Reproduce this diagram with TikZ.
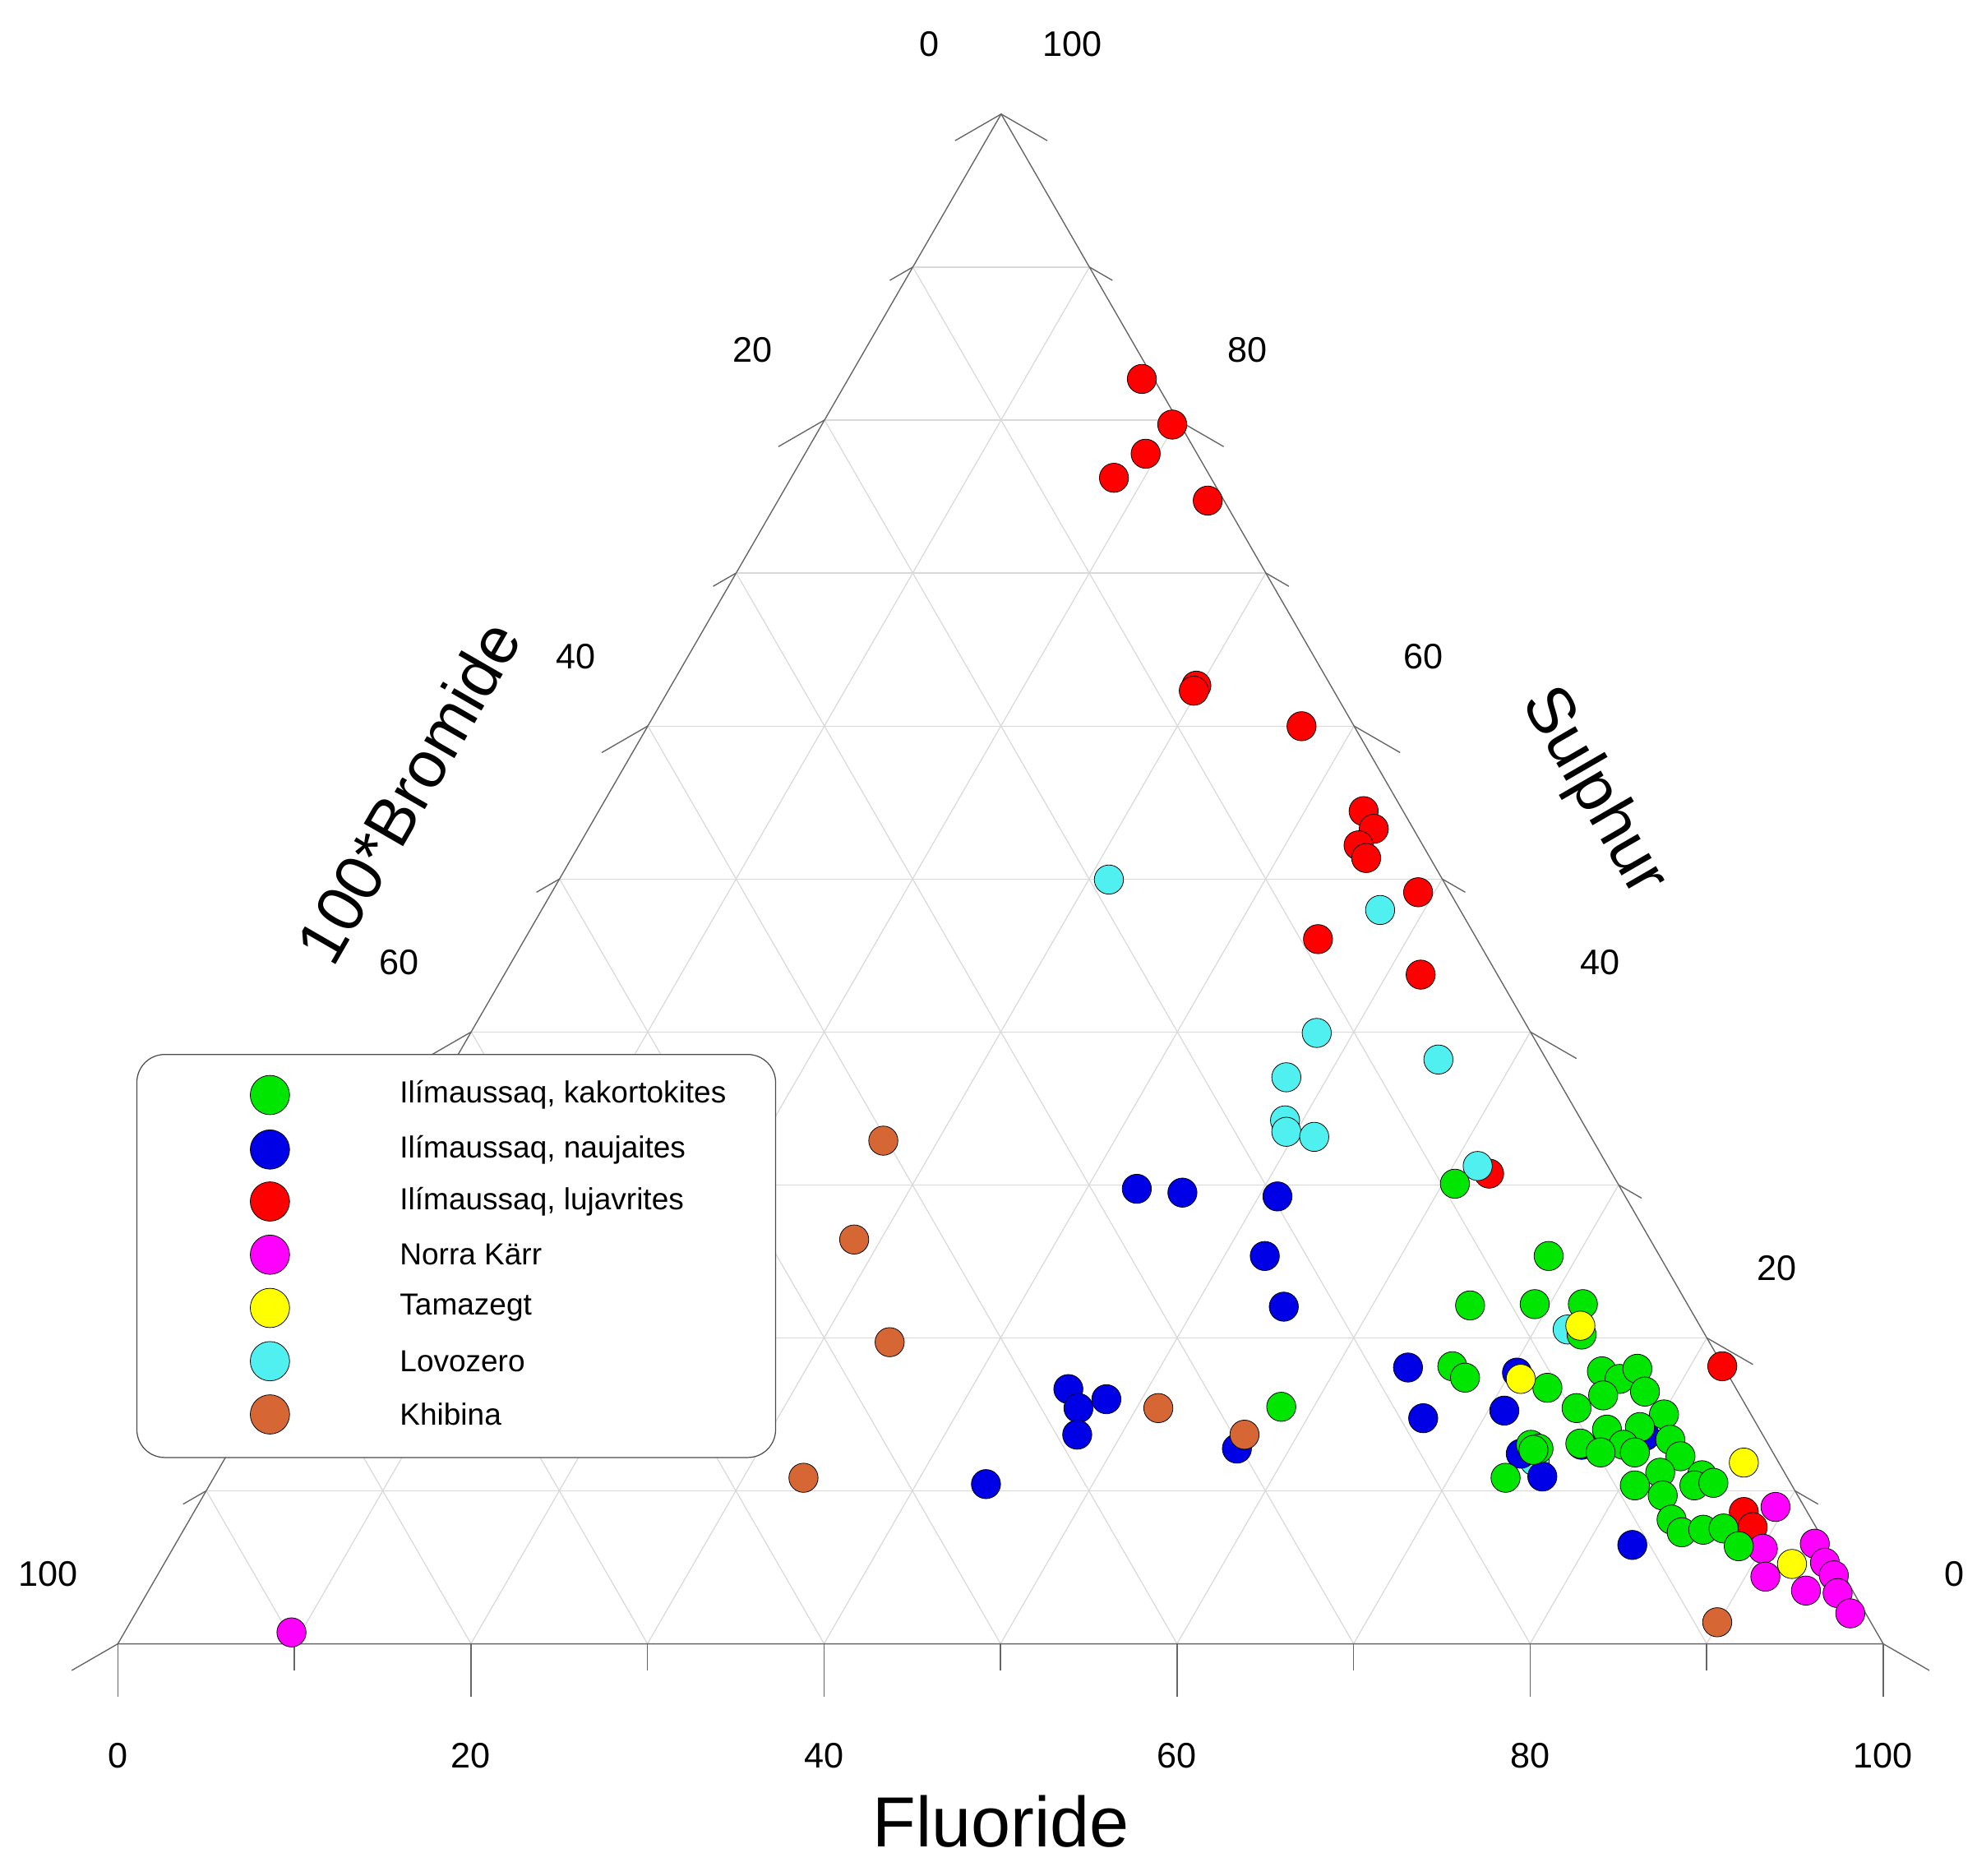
\documentclass[tikz,border=0pt]{standalone}
\usepackage{fontspec}
\setmainfont{Liberation Sans}
\usetikzlibrary{calc}
\definecolor{cG}{RGB}{0,230,0}
\definecolor{cB}{RGB}{0,0,230}
\definecolor{cR}{RGB}{255,0,0}
\definecolor{cM}{RGB}{255,0,255}
\definecolor{cY}{RGB}{255,255,0}
\definecolor{cC}{RGB}{80,240,240}
\definecolor{cK}{RGB}{214,102,52}
\begin{document}
\begin{tikzpicture}[x=1pt,y=-1pt,
 grid/.style={draw=black!15,line width=0.8pt},
 ax/.style={draw=black!60,line width=0.9pt},
 num/.style={font=\fontsize{28}{30}\selectfont},
 pt/.style={circle,draw=black,line width=0.5pt,minimum size=23pt,inner sep=0pt},
 lg/.style={circle,draw=black,line width=0.5pt,minimum size=31pt,inner sep=0pt},
 lt/.style={anchor=west,font=\fontsize{24}{26}\selectfont}]
\useasboundingbox (0,0) rectangle (1560,1480);
\coordinate (L) at (93,1297); \coordinate (R) at (1486,1297); \coordinate (T) at (790,90);
\foreach \k in {0.1,0.2,...,0.95}{
 \draw[grid] ($(L)!\k!(R)$) -- ($(T)!\k!(R)$);
 \draw[grid] ($(R)!\k!(L)$) -- ($(T)!\k!(L)$);
 \draw[grid] ($(L)!\k!(T)$) -- ($(R)!\k!(T)$);
}
\draw[ax] (L) -- (R) -- (T) -- cycle;
\foreach \k/\len in {0/42,0.1/21,0.2/42,0.3/21,0.4/42,0.5/21,0.6/42,0.7/21,0.8/42,0.9/21,1/42}{
 \draw[ax] ($(L)!\k!(R)$) -- ++(0,\len);
 \draw[ax] ($(T)!\k!(L)$) -- ++(150:\len);
 \draw[ax] ($(R)!\k!(T)$) -- ++(30:\len);
}
\foreach \v/\k in {0/0,20/0.2,40/0.4,60/0.6,80/0.8,100/1}
 \node[num] (f\v) at ($(L)!\k!(R)+(0,88)$) {\v};
\foreach \v/\k in {20/0.2,40/0.4,60/0.6}
 \node[num] (b\v) at ($(T)!\k!(L)+(-57,-55)$) {\v};
\node[num] (b0) at (733,35) {0};
\node[num] (b100) at (38,1242) {100};
\foreach \v/\k in {20/0.2,40/0.4,60/0.6,80/0.8}
 \node[num] (s\v) at ($(R)!\k!(T)+(55,-55)$) {\v};
\node[num] (s0) at (1542,1242) {0};
\node[num] (s100) at (846,35) {100};
\node[font=\fontsize{56}{60}\selectfont] (tf) at (790,1437) {Fluoride};
\node[font=\fontsize{52}{56}\selectfont,rotate=60] (tb) at (322,625) {100*Bromide};
\node[font=\fontsize{52}{56}\selectfont,rotate=-60] (ts) at (1257,625) {Sulphur};
\draw[fill=white,draw=black!70,line width=0.8pt,rounded corners=22pt] (108,832) rectangle (612,1150);
\foreach \c/\y/\t [count=\i] in {cG/864/{Ilímaussaq, kakortokites},cB/907/{Ilímaussaq, naujaites},cR/948/{Ilímaussaq, lujavrites},cM/990/{Norra Kärr},cY/1032/Tamazegt,cC/1074/Lovozero,cK/1116/Khibina}{
 \node[lg,fill=\c] (lm\i) at (213,\y) {};
 \node[lt] (lt\i) at (312,\y) {\t};
}
\foreach \p [count=\i] in {(901,299),(925,335),(904,358),(879,377),(953,395),(944,541),(942,545),(1027,573),(1076,640),(1084,654),(1072,667),(1078,677),(1119,704),(1040,741),(1121,769),(1175,926),(1359,1078),(1376,1193),(1383,1205)}
 \node[pt,fill=cR] (r\i) at \p {};
\foreach \p [count=\i] in {(875,694),(1089,718),(1039,815),(1135,836),(1015,850),(1014,884),(1015,893),(1037,897),(1166,920),(1237,1049),(1211,1153)}
 \node[pt,fill=cC] (c\i) at \p {};
\foreach \p [count=\i] in {(897,938),(933,941),(1008,944),(998,991),(1013,1031),(1111,1079),(1197,1083),(1123,1119),(1187,1113),(1200,1147),(1248,1140),(1298,1133),(1217,1165),(843,1096),(851,1111),(873,1104),(850,1132),(976,1143),(778,1171),(1288,1219)}
 \node[pt,fill=cB] (u\i) at \p {};
\foreach \p [count=\i] in {(230,1288),(1401,1189),(1391,1222),(1393,1244),(1432,1218),(1440,1233),(1447,1243),(1425,1255),(1450,1257),(1460,1273)}
 \node[pt,fill=cM] (m\i) at \p {};
\foreach \p [count=\i] in {(697,900),(674,978),(702,1059),(914,1111),(982,1132),(634,1166),(1355,1280)}
 \node[pt,fill=cK] (k\i) at \p {};
\foreach \p [count=\i] in {(1148,934),(1222,991),(1160,1030),(1211,1029),(1249,1029),(1248,1053),(1146,1078),(1156,1087),(1221,1095),(1011,1110),(1264,1082),(1278,1088),(1292,1080),(1298,1098),(1265,1101),(1244,1111),(1313,1116),(1268,1128),(1294,1126),(1281,1140),(1318,1136),(1247,1139),(1263,1146),(1290,1146),(1326,1149),(1208,1140),(1214,1143),(1310,1162),(1343,1164),(1337,1172),(1352,1170),(1290,1172),(1312,1180),(1188,1166),(1319,1199),(1327,1209),(1344,1207),(1360,1206),(1372,1220),(1210,1144)}
 \node[pt,fill=cG] (g\i) at \p {};
\foreach \p [count=\i] in {(1247,1046),(1200,1088),(1376,1154),(1414,1234)}
 \node[pt,fill=cY] (y\i) at \p {};
\end{tikzpicture}
\end{document}
